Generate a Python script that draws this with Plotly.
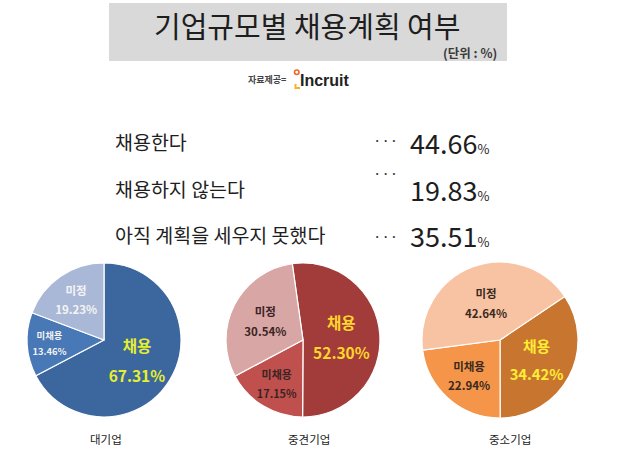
import plotly.graph_objects as go

# ---- data ----
title_text = "기업규모별 채용계획 여부"
unit_text = "(단위 : %)"
source_text = "자료제공="
brand_text = "Incruit"
summary_labels = ["채용한다", "채용하지 않는다", "아직 계획을 세우지 못했다"]
summary_values = [44.66, 19.83, 35.51]
slice_labels = ["채용", "미채용", "미정"]
group_names = ["대기업", "중견기업", "중소기업"]
large_values = [67.31, 13.46, 19.23]
mid_values = [52.30, 17.15, 30.54]
small_values = [34.42, 22.94, 42.64]

W, H = 620, 457
FONT = "Noto Sans CJK KR"


def px(x):
    return x / W


def py(y):
    return 1 - y / H


fig = go.Figure()

pie_specs = [
    dict(values=large_values, cx=104, cy=340, r=77, rot=0,
         colors=["#3c679e", "#4878b6", "#a9b8d6"],
         tcolors=["#e6ef2e", "#f2f2f2", "#f4f4f4"], name=group_names[0], lx=106),
    dict(values=mid_values, cx=303, cy=340, r=77, rot=-8,
         colors=["#a23c3b", "#c0504d", "#d8a6a5"],
         tcolors=["#ffd62a", "#3a2424", "#3a2424"], name=group_names[1], lx=309),
    dict(values=small_values, cx=500, cy=340, r=78, rot=56,
         colors=["#c8762f", "#f5954a", "#f8c3a3"],
         tcolors=["#ffec36", "#3a2a20", "#3a2a20"], name=group_names[2], lx=510),
]

big_tpl = ("<span style='font-size:15.5px'><b>%{label}</b></span><br>"
           "<span style='font-size:15.5px'><b>%{value:.2f}%</b></span>")
small_tpl = ("<span style='font-size:11.5px'><b>%{label}</b></span><br>"
             "<span style='font-size:11.5px'><b>%{value:.2f}%</b></span>")

for s in pie_specs:
    fig.add_trace(go.Pie(
        labels=slice_labels,
        values=s["values"],
        sort=False,
        direction="clockwise",
        rotation=s["rot"],
        domain=dict(x=[px(s["cx"] - s["r"]), px(s["cx"] + s["r"])],
                    y=[py(s["cy"] + s["r"]), py(s["cy"] - s["r"])]),
        marker=dict(colors=s["colors"], line=dict(color="#ffffff", width=1.2)),
        texttemplate=[big_tpl, small_tpl, small_tpl],
        textposition="inside",
        insidetextorientation="horizontal",
        textfont=dict(family=FONT, color=s["tcolors"], size=[23, 15, 15]),
        showlegend=False,
        hoverinfo="label+value",
        name=s["name"],
    ))

annotations = []
# title
annotations.append(dict(x=px(307), y=py(25), text=title_text, showarrow=False,
                        xanchor="center", yanchor="middle",
                        font=dict(family=FONT, size=29, color="#1e1e1e")))
annotations.append(dict(x=px(499), y=py(52), text="<b>" + unit_text + "</b>", showarrow=False,
                        xanchor="right", yanchor="middle",
                        font=dict(family=FONT, size=12.5, color="#3a3a3a")))
# source
annotations.append(dict(x=px(288), y=py(79), text="<b>" + source_text + "</b>", showarrow=False,
                        xanchor="right", yanchor="middle",
                        font=dict(family=FONT, size=9, color="#444")))
annotations.append(dict(x=px(298), y=py(80), text="<b>" + brand_text + "</b>", showarrow=False,
                        xanchor="left", yanchor="middle",
                        font=dict(family="Liberation Sans", size=16, color="#222")))

rows_y = [141, 188, 234]
dots_y = [139, 172, 235]
for lab, val, ry, dy in zip(summary_labels, summary_values, rows_y, dots_y):
    annotations.append(dict(x=px(113), y=py(ry), text=lab, showarrow=False,
                            xanchor="left", yanchor="middle",
                            font=dict(family=FONT, size=19.5, color="#1e1e1e")))
    annotations.append(dict(x=px(385), y=py(dy), text="···", showarrow=False,
                            xanchor="center", yanchor="middle",
                            font=dict(family=FONT, size=15, color="#333")))
    annotations.append(dict(x=px(491), y=py(ry + 1),
                            text=f"{val:.2f}<span style='font-size:13px'>%</span>",
                            showarrow=False, xanchor="right", yanchor="middle",
                            font=dict(family=FONT, size=27, color="#1e1e1e")))

for s in pie_specs:
    annotations.append(dict(x=px(s["lx"]), y=py(439), text=s["name"], showarrow=False,
                            xanchor="center", yanchor="middle",
                            font=dict(family=FONT, size=11.5, color="#222")))

shapes = [
    dict(type="rect", xref="paper", yref="paper",
         x0=px(109), x1=px(507), y0=py(61), y1=py(3),
         fillcolor="#d9d9d9", line=dict(width=0), layer="below"),
    # logo mark
    dict(type="circle", xref="paper", yref="paper",
         x0=px(294.5), x1=px(299), y0=py(74.5), y1=py(70),
         fillcolor="rgba(0,0,0,0)", line=dict(color="#f26522", width=1.6)),
    dict(type="path", xref="paper", yref="paper",
         path=f"M {px(295.5)} {py(84)} L {px(295.5)} {py(88)} L {px(300)} {py(88)}",
         line=dict(color="#f7b321", width=2)),
]

fig.update_layout(
    width=W, height=H,
    margin=dict(l=0, r=0, t=0, b=0),
    paper_bgcolor="#ffffff",
    plot_bgcolor="#ffffff",
    annotations=annotations,
    shapes=shapes,
)

fig.write_html("out.html")
